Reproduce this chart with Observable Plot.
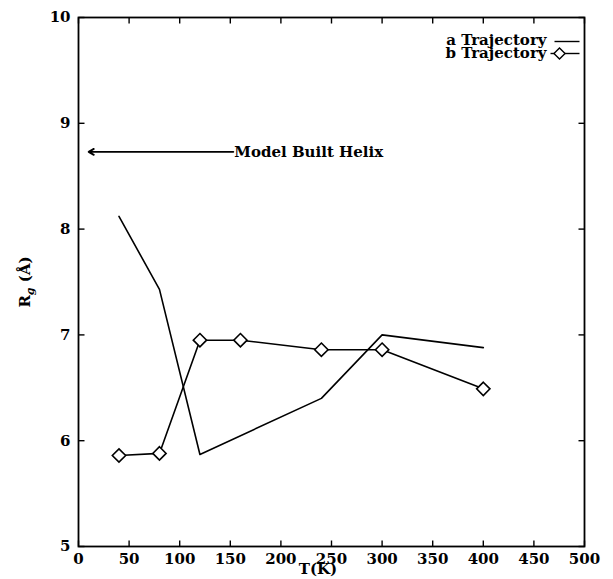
<!DOCTYPE html>
<html>
<head>
<meta charset="utf-8">
<script src="https://cdn.jsdelivr.net/npm/d3@7"></script>
<script src="https://cdn.jsdelivr.net/npm/@observablehq/plot@0.6"></script>
<style>
  html, body { margin: 0; padding: 0; background: #fff; }
  svg { display: block; }
</style>
</head>
<body>
<div id="chart"></div>
<script>
// Radius of gyration vs temperature for two trajectories
const tempA = [40, 80, 120, 240, 300, 400];
const rgA   = [8.12, 7.43, 5.87, 6.40, 7.00, 6.88];

const tempB = [40, 80, 120, 160, 240, 300, 400];
const rgB   = [5.86, 5.88, 6.95, 6.95, 6.86, 6.86, 6.49];

// Reference value for the model-built helix
const helixRg = 8.73;
const helixSpan = [153, 10];
const helixLabel = "Model Built Helix";

const xTicks = [0, 50, 100, 150, 200, 250, 300, 350, 400, 450, 500];
const yTicks = [5, 6, 7, 8, 9, 10];
const legendLabels = ["a Trajectory", "b Trajectory"];

const seriesA = tempA.map((t, i) => ({t, rg: rgA[i]}));
const seriesB = tempB.map((t, i) => ({t, rg: rgB[i]}));

const font = "DejaVu Serif, Liberation Serif, serif";

// custom symbols: legend line samples and inward tick marks
const hline = (a, b) => ({draw(ctx) { ctx.moveTo(a, 0); ctx.lineTo(b, 0); }});
const vline = (a, b) => ({draw(ctx) { ctx.moveTo(0, a); ctx.lineTo(0, b); }});
const tickLen = 6;

const chart = Plot.plot({
  width: 613,
  height: 579,
  marginLeft: 78,
  marginRight: 29,
  marginTop: 17,
  marginBottom: 33,
  style: {fontFamily: font, background: "#fff", color: "#000"},
  x: {domain: [0, 500]},
  y: {domain: [5, 10]},
  marks: [
    Plot.frame({stroke: "#000", strokeWidth: 1.8}),
    // tick labels
    Plot.axisX(xTicks, {anchor: "bottom", tickSize: 0, tickPadding: 7, fontSize: 15, fontWeight: "bold", label: null, tickFormat: d => d}),
    Plot.axisY(yTicks, {anchor: "left", tickSize: 0, tickPadding: 8, fontSize: 15, fontWeight: "bold", label: null, tickFormat: d => d}),
    // inward ticks on all four sides
    Plot.dot(xTicks, {x: d => d, frameAnchor: "bottom", symbol: vline(0, -tickLen), stroke: "#000", strokeWidth: 1.4}),
    Plot.dot(xTicks, {x: d => d, frameAnchor: "top", symbol: vline(0, tickLen), stroke: "#000", strokeWidth: 1.4}),
    Plot.dot(yTicks, {y: d => d, frameAnchor: "left", symbol: hline(0, tickLen), stroke: "#000", strokeWidth: 1.4}),
    Plot.dot(yTicks, {y: d => d, frameAnchor: "right", symbol: hline(0, -tickLen), stroke: "#000", strokeWidth: 1.4}),
    // model-built helix reference
    Plot.arrow([helixRg], {x1: helixSpan[0], x2: helixSpan[1], y1: d => d, y2: d => d, stroke: "#000", strokeWidth: 1.8, headLength: 5, bend: 0}),
    Plot.text([helixRg], {x: helixSpan[0], y: d => d, text: [helixLabel], textAnchor: "start", fontSize: 15, fontWeight: "bold", dx: 1, fill: "#000"}),
    // trajectories
    Plot.line(seriesA, {x: "t", y: "rg", stroke: "#000", strokeWidth: 1.6}),
    Plot.line(seriesB, {x: "t", y: "rg", stroke: "#000", strokeWidth: 1.6}),
    Plot.dot(seriesB, {x: "t", y: "rg", symbol: "diamond2", r: 6, stroke: "#000", fill: "#fff", strokeWidth: 1.6}),
    // legend
    Plot.text([legendLabels[0]], {frameAnchor: "top-right", lineAnchor: "middle", text: d => d, dx: -38, dy: 23, textAnchor: "end", fontSize: 15, fontWeight: "bold", fill: "#000"}),
    Plot.text([legendLabels[1]], {frameAnchor: "top-right", lineAnchor: "middle", text: d => d, dx: -38, dy: 36, textAnchor: "end", fontSize: 15, fontWeight: "bold", fill: "#000"}),
    Plot.dot([0], {frameAnchor: "top-right", dx: -5, dy: 24, symbol: hline(-25, 0), stroke: "#000", strokeWidth: 1.4}),
    Plot.dot([0], {frameAnchor: "top-right", dx: -5, dy: 36, symbol: hline(-29, 0), stroke: "#000", strokeWidth: 1.4}),
    Plot.dot([0], {frameAnchor: "top-right", dx: -25, dy: 36, symbol: "diamond2", r: 5, stroke: "#000", fill: "#fff", strokeWidth: 1.4})
  ]
});

const svg = d3.select(chart);

// axis titles
svg.append("text")
  .attr("transform", "translate(30,282) rotate(-90)")
  .attr("text-anchor", "middle")
  .attr("font-family", font)
  .attr("font-weight", "bold")
  .attr("font-size", 15)
  .call(t => {
    t.append("tspan").text("R");
    t.append("tspan").attr("dy", 4).attr("font-size", 11).attr("font-style", "italic").text("g");
    t.append("tspan").attr("dy", -4).text(" (Å)");
  });

svg.append("text")
  .attr("x", 318)
  .attr("y", 574)
  .attr("text-anchor", "middle")
  .attr("font-family", font)
  .attr("font-weight", "bold")
  .attr("font-size", 15)
  .text("T(K)");

document.getElementById("chart").appendChild(chart);
</script>
</body>
</html>
